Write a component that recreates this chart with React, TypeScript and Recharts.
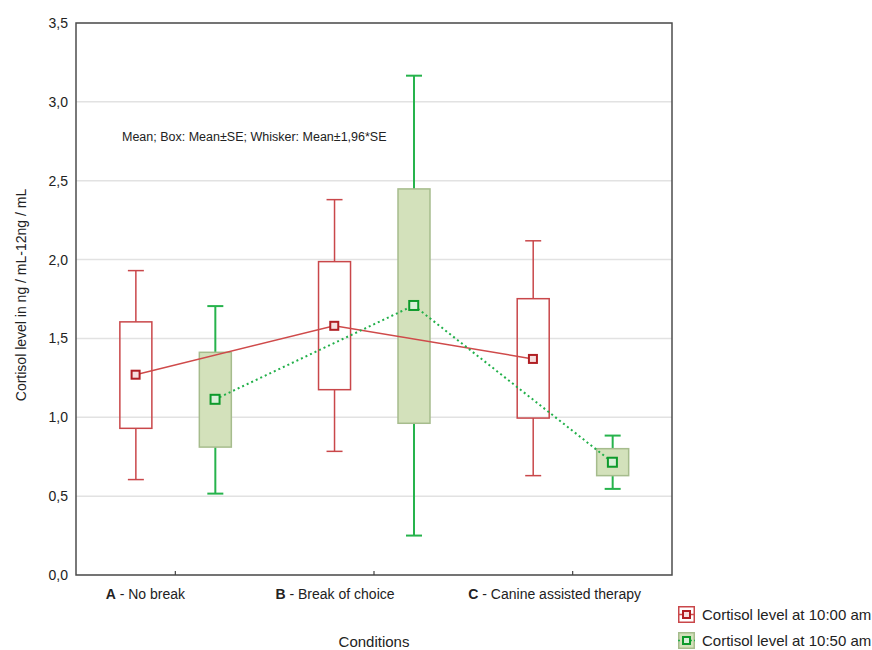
import React from 'react';
import { ComposedChart, Bar, Line, XAxis, YAxis, CartesianGrid, ReferenceArea } from 'recharts';

// ---------- data ----------
const categories = ['A', 'B', 'C'];
const categoryNames = ['No break', 'Break of choice', 'Canine assisted therapy'];
const yTicks = [0, 0.5, 1, 1.5, 2, 2.5, 3, 3.5];
const seriesNames = ['Cortisol level at 10:00 am', 'Cortisol level at 10:50 am'];
const annotation = 'Mean; Box: Mean\u00b1SE; Whisker: Mean\u00b11,96*SE';

// 10:00 am
const mean1000 = [1.27, 1.58, 1.37];
const boxLow1000 = [0.93, 1.175, 0.995];
const boxHigh1000 = [1.605, 1.987, 1.752];
const whiskerLow1000 = [0.605, 0.784, 0.63];
const whiskerHigh1000 = [1.93, 2.38, 2.119];

// 10:50 am
const mean1050 = [1.114, 1.709, 0.715];
const boxLow1050 = [0.811, 0.962, 0.63];
const boxHigh1050 = [1.412, 2.448, 0.801];
const whiskerLow1050 = [0.516, 0.25, 0.546];
const whiskerHigh1050 = [1.705, 3.166, 0.884];

// ---------- layout / style constants ----------
const SHIFT = 0.2; // horizontal offset of each box from the category centre (fraction of category)
const LABEL_SHIFT = [-30, -39, -18];
const FONT = '"Liberation Sans", Arial, Helvetica, sans-serif';

const STYLE: Record<string, any> = {
  am1000: { whisker: '#c9474a', ww: 1.5, fill: 'none', stroke: '#c9474a', marker: '#b01e23', markerFill: '#f6dede' },
  am1050: { whisker: '#26b34c', ww: 2, fill: '#d3e1bb', stroke: '#a6bc8d', marker: '#0d9a2b', markerFill: '#d9f0d9' },
};

const rows: any[] = [];
categories.forEach((c, i) => {
  rows.push({
    x: i + 0.5 - SHIFT,
    kind: 'am1000',
    whisker: [whiskerLow1000[i], whiskerHigh1000[i]],
    boxLow: boxLow1000[i],
    boxHigh: boxHigh1000[i],
    m1000: mean1000[i],
  });
  rows.push({
    x: i + 0.5 + SHIFT,
    kind: 'am1050',
    whisker: [whiskerLow1050[i], whiskerHigh1050[i]],
    boxLow: boxLow1050[i],
    boxHigh: boxHigh1050[i],
    m1050: mean1050[i],
  });
});

const xTicks = categories.map((_, i) => i + 0.5);

const BoxShape = (props: any) => {
  const { x, y, width, height, payload } = props;
  if (!payload || x == null || y == null || !isFinite(y) || !isFinite(height)) return null;
  const top = Math.min(y, y + height);
  const bottom = Math.max(y, y + height);
  const [wl, wh] = payload.whisker;
  const k = (bottom - top) / (wh - wl);
  const py = (v: number) => bottom - (v - wl) * k;
  const cx = x + width / 2;
  const st = STYLE[payload.kind];
  const bTop = py(payload.boxHigh);
  const bBot = py(payload.boxLow);
  const cap = 8;
  return (
    <g>
      <line x1={cx} x2={cx} y1={top} y2={bTop} stroke={st.whisker} strokeWidth={st.ww} />
      <line x1={cx} x2={cx} y1={bBot} y2={bottom} stroke={st.whisker} strokeWidth={st.ww} />
      <line x1={cx - cap} x2={cx + cap} y1={top} y2={top} stroke={st.whisker} strokeWidth={st.ww} />
      <line x1={cx - cap} x2={cx + cap} y1={bottom} y2={bottom} stroke={st.whisker} strokeWidth={st.ww} />
      <rect x={x} y={bTop} width={width} height={bBot - bTop} fill={st.fill} stroke={st.stroke} strokeWidth={1.5} />
    </g>
  );
};

const makeDot = (kind: string, size: number) => (props: any) => {
  const { cx, cy, value, index } = props;
  if (cx == null || cy == null || value == null || !isFinite(cy)) return <g key={`d${kind}${index}`} />;
  const st = STYLE[kind];
  return (
    <rect
      key={`d${kind}${index}`}
      x={cx - size / 2}
      y={cy - size / 2}
      width={size}
      height={size}
      fill={st.markerFill}
      stroke={st.marker}
      strokeWidth={2}
    />
  );
};

const CategoryTick = (props: any) => {
  const { x, y, payload } = props;
  const i = Math.floor(payload.value);
  return (
    <g>
      <line x1={x} x2={x} y1={y} y2={y - 4} stroke="#444" strokeWidth={1.2} />
      <text x={x + LABEL_SHIFT[i]} y={y + 24} textAnchor="middle" fontSize={14} fill="#222" fontFamily={FONT}>
        <tspan fontWeight="bold">{categories[i]}</tspan>
        <tspan>{' - ' + categoryNames[i]}</tspan>
      </text>
    </g>
  );
};

const yLabel = (props: any) => {
  const vb = props.viewBox || { x: 0, y: 23, width: 76, height: 552 };
  const cx = vb.x + 21;
  const cy = vb.y + vb.height / 2 - 4;
  return (
    <text
      x={cx}
      y={cy}
      transform={`rotate(-90 ${cx} ${cy})`}
      textAnchor="middle"
      dominantBaseline="central"
      fontSize={14}
      fill="#222"
      fontFamily={FONT}
    >
      Cortisol level in ng / mL-12ng / mL
    </text>
  );
};

const xLabel = (props: any) => {
  const vb = props.viewBox || { x: 76, y: 575, width: 596, height: 75 };
  return (
    <text
      x={vb.x + vb.width / 2}
      y={vb.y + 66}
      textAnchor="middle"
      dominantBaseline="central"
      fontSize={15}
      fill="#222"
      fontFamily={FONT}
    >
      Conditions
    </text>
  );
};

const LegendIcon = ({ kind }: { kind: string }) => {
  const st = STYLE[kind];
  const dashed = kind === 'am1050';
  return (
    <svg width={17} height={17} style={{ display: 'block' }}>
      <rect x={0.75} y={0.75} width={15.5} height={15.5} fill={dashed ? st.fill : '#fff'} stroke={st.stroke} strokeWidth={1.5} />
      <line x1={0} x2={17} y1={8.5} y2={8.5} stroke={dashed ? '#22b04a' : '#cf4a4a'} strokeWidth={1.5} strokeDasharray={dashed ? '2 2' : undefined} />
      <rect x={5} y={5} width={7} height={7} fill={st.markerFill} stroke={st.marker} strokeWidth={2} />
    </svg>
  );
};

export default function App() {
  return (
    <div style={{ position: 'absolute', left: 0, top: 0, width: 872, height: 650, background: '#fff', fontFamily: FONT }}>
      <ComposedChart width={872} height={650} data={rows} margin={{ top: 23, right: 200, bottom: 0, left: 0 }}>
        <CartesianGrid vertical={false} stroke="#e2e2e2" strokeWidth={1.5} />
        <XAxis
          type="number"
          dataKey="x"
          domain={[0, 3]}
          ticks={xTicks}
          interval={0}
          axisLine={false}
          tickLine={false}
          tickSize={0}
          tickMargin={0}
          height={75}
          tick={<CategoryTick />}
          label={xLabel}
        />
        <YAxis
          type="number"
          domain={[0, 3.5]}
          ticks={yTicks}
          interval={0}
          width={76}
          axisLine={false}
          tickLine={false}
          tick={{ fontSize: 14, fill: '#222', fontFamily: FONT }}
          tickFormatter={(v: number) => v.toFixed(1).replace('.', ',')}
          label={yLabel}
        />
        <Line
          dataKey="m1000"
          stroke="#cf4a4a"
          strokeWidth={1.5}
          connectNulls
          dot={makeDot('am1000', 8)}
          activeDot={false}
          isAnimationActive={false}
        />
        <Bar dataKey="whisker" barSize={32} shape={<BoxShape />} isAnimationActive={false} />
        <Line
          dataKey="m1050"
          stroke="#22b04a"
          strokeWidth={2}
          strokeDasharray="2 3"
          connectNulls
          dot={makeDot('am1050', 9)}
          activeDot={false}
          isAnimationActive={false}
        />
        <ReferenceArea x1={0} x2={3} y1={0} y2={3.5} fill="none" fillOpacity={0} stroke="#4d4d4d" strokeWidth={1.5} ifOverflow="visible" />
      </ComposedChart>

      <div style={{ position: 'absolute', left: 122, top: 130, fontSize: 12.5, lineHeight: '14px', color: '#222', whiteSpace: 'nowrap' }}>
        {annotation}
      </div>

      <div style={{ position: 'absolute', left: 678, top: 606, display: 'flex', alignItems: 'center', height: 17 }}>
        <LegendIcon kind="am1000" />
        <span style={{ marginLeft: 7, fontSize: 15, color: '#222', whiteSpace: 'nowrap' }}>{seriesNames[0]}</span>
      </div>
      <div style={{ position: 'absolute', left: 678, top: 632, display: 'flex', alignItems: 'center', height: 17 }}>
        <LegendIcon kind="am1050" />
        <span style={{ marginLeft: 7, fontSize: 15, color: '#222', whiteSpace: 'nowrap' }}>{seriesNames[1]}</span>
      </div>
    </div>
  );
}
